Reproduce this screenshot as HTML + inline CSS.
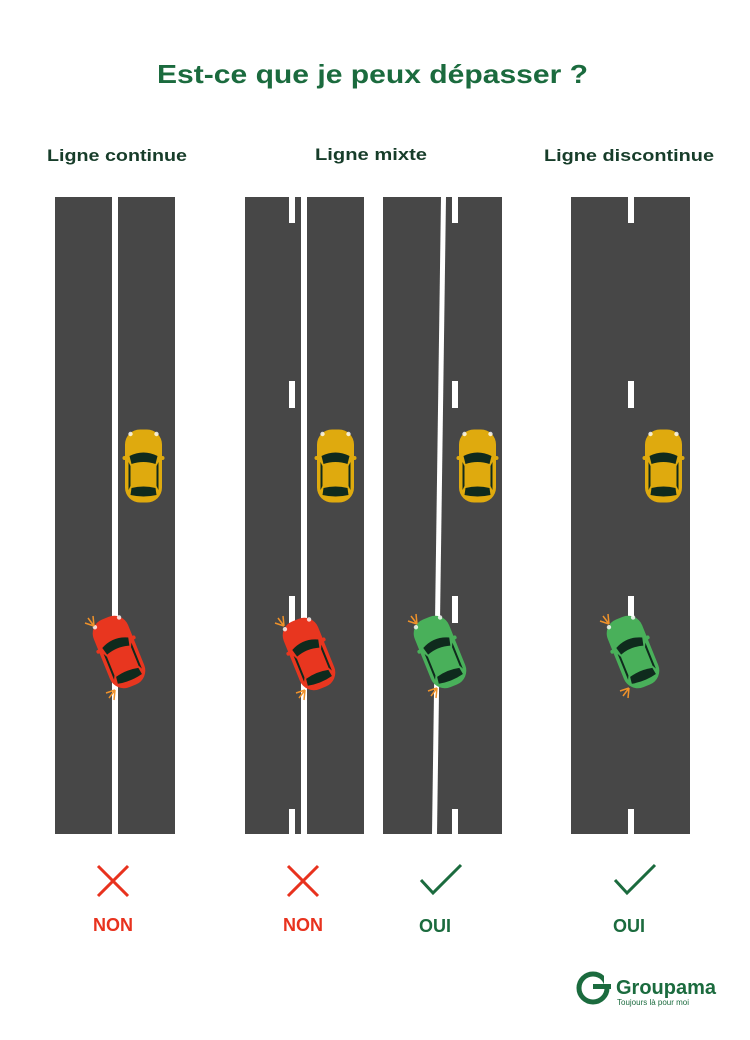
<!DOCTYPE html>
<html><head><meta charset="utf-8"><style>
body{margin:0;width:750px;height:1035px;background:#fff;overflow:hidden;font-family:"Liberation Sans",sans-serif}
</style></head><body>
<svg width="750" height="1035" viewBox="0 0 750 1035" xmlns="http://www.w3.org/2000/svg">
<defs>
<g id="car">
  <rect x="-21" y="-10" width="42" height="4" rx="2" fill="inherit"/>
  <rect x="-18.5" y="-36.5" width="37" height="73" rx="15"/>
  <path d="M-14,-10 Q0,-17 14,-10 L12,-2 Q0,-6 -12,-2 Z" fill="#0f2a1d"/>
  <path d="M-12,22 Q0,19 12,22 L13,29 Q0,32 -13,29 Z" fill="#0f2a1d"/>
  <path d="M-15,-4 L-13,0 L-13,20 L-15,24 Z" fill="#0f2a1d"/>
  <path d="M15,-4 L13,0 L13,20 L15,24 Z" fill="#0f2a1d"/>
  <circle cx="-13" cy="-32" r="2.2" fill="#fff" opacity="0.8"/>
  <circle cx="13" cy="-32" r="2.2" fill="#fff" opacity="0.8"/>
</g>
<g id="spark" stroke="#f0922a" stroke-width="1.5" fill="none">
  <path d="M0,0 L-9,-3 M0,0 L-6,-8 M0,0 L-1,-10"/>
</g>
</defs>

<text x="157" y="83" textLength="431" lengthAdjust="spacingAndGlyphs" font-size="26" font-weight="bold" fill="#1b6b3e">Est-ce que je peux dépasser ?</text>
<g font-size="17" font-weight="bold" fill="#173d2a">
<text x="47" y="161" textLength="140" lengthAdjust="spacingAndGlyphs">Ligne continue</text>
<text x="315" y="160" textLength="112" lengthAdjust="spacingAndGlyphs">Ligne mixte</text>
<text x="544" y="161" textLength="170" lengthAdjust="spacingAndGlyphs">Ligne discontinue</text>
</g>

<!-- roads -->
<rect x="55" y="197" width="120" height="637" fill="#474747"/>
<rect x="112" y="197" width="6" height="637" fill="#fff"/>

<rect x="245" y="197" width="119" height="637" fill="#474747"/>
<rect x="301" y="197" width="6" height="637" fill="#fff"/>
<g fill="#fff">
<rect x="289" y="197" width="6" height="26"/><rect x="289" y="381" width="6" height="27"/><rect x="289" y="596" width="6" height="27"/><rect x="289" y="809" width="6" height="25"/>
</g>

<rect x="383" y="197" width="119" height="637" fill="#474747"/>
<polygon points="441,197 446,197 437,834 432,834" fill="#fff"/>
<g fill="#fff">
<rect x="452" y="197" width="6" height="26"/><rect x="452" y="381" width="6" height="27"/><rect x="452" y="596" width="6" height="27"/><rect x="452" y="809" width="6" height="25"/>
</g>

<rect x="571" y="197" width="119" height="637" fill="#474747"/>
<g fill="#fff">
<rect x="628" y="197" width="6" height="26"/><rect x="628" y="381" width="6" height="27"/><rect x="628" y="596" width="6" height="27"/><rect x="628" y="809" width="6" height="25"/>
</g>

<use href="#car" fill="#dfaa0e" transform="translate(143.5,466)"/>
<use href="#car" fill="#dfaa0e" transform="translate(335.5,466)"/>
<use href="#car" fill="#dfaa0e" transform="translate(477.5,466)"/>
<use href="#car" fill="#dfaa0e" transform="translate(663.5,466)"/>

<use href="#car" fill="#e8361f" transform="translate(119,652) rotate(-22)"/>
<use href="#car" fill="#e8361f" transform="translate(309,654) rotate(-22)"/>
<use href="#car" fill="#49b05a" transform="translate(440,652) rotate(-22)"/>
<use href="#car" fill="#49b05a" transform="translate(633,652) rotate(-22)"/>

<use href="#spark" transform="translate(94,626)"/><use href="#spark" transform="translate(115,690) rotate(180) scale(-1,1)"/>
<use href="#spark" transform="translate(284,626)"/><use href="#spark" transform="translate(305,690) rotate(180) scale(-1,1)"/>
<use href="#spark" transform="translate(417,624)"/><use href="#spark" transform="translate(437,688) rotate(180) scale(-1,1)"/>
<use href="#spark" transform="translate(609,624)"/><use href="#spark" transform="translate(629,688) rotate(180) scale(-1,1)"/>

<g stroke="#e8321e" stroke-width="3" fill="none">
<path d="M98,866 L128,896 M128,866 L98,896"/>
<path d="M288,866 L318,896 M318,866 L288,896"/>
</g>
<g stroke="#1b6b3e" stroke-width="3" fill="none">
<path d="M421,880 L433,893 L461,865"/>
<path d="M615,880 L627,893 L655,865"/>
</g>
<g font-size="18" font-weight="bold" text-anchor="middle">
<text x="113" y="931" fill="#e8321e">NON</text>
<text x="303" y="931" fill="#e8321e">NON</text>
<text x="435" y="932" fill="#1b6b3e">OUI</text>
<text x="629" y="932" fill="#1b6b3e">OUI</text>
</g>

<circle cx="593" cy="988" r="14" fill="none" stroke="#1b6b3e" stroke-width="5"/>
<rect x="593" y="984" width="18" height="5" fill="#1b6b3e"/>
<rect x="604" y="970" width="10" height="14" fill="#fff"/>
<text x="616" y="994" font-size="20" font-weight="bold" fill="#1b6b3e">Groupama</text>
<text x="617" y="1005" font-size="8" fill="#1b6b3e">Toujours là pour moi</text>
</svg>
</body></html>
